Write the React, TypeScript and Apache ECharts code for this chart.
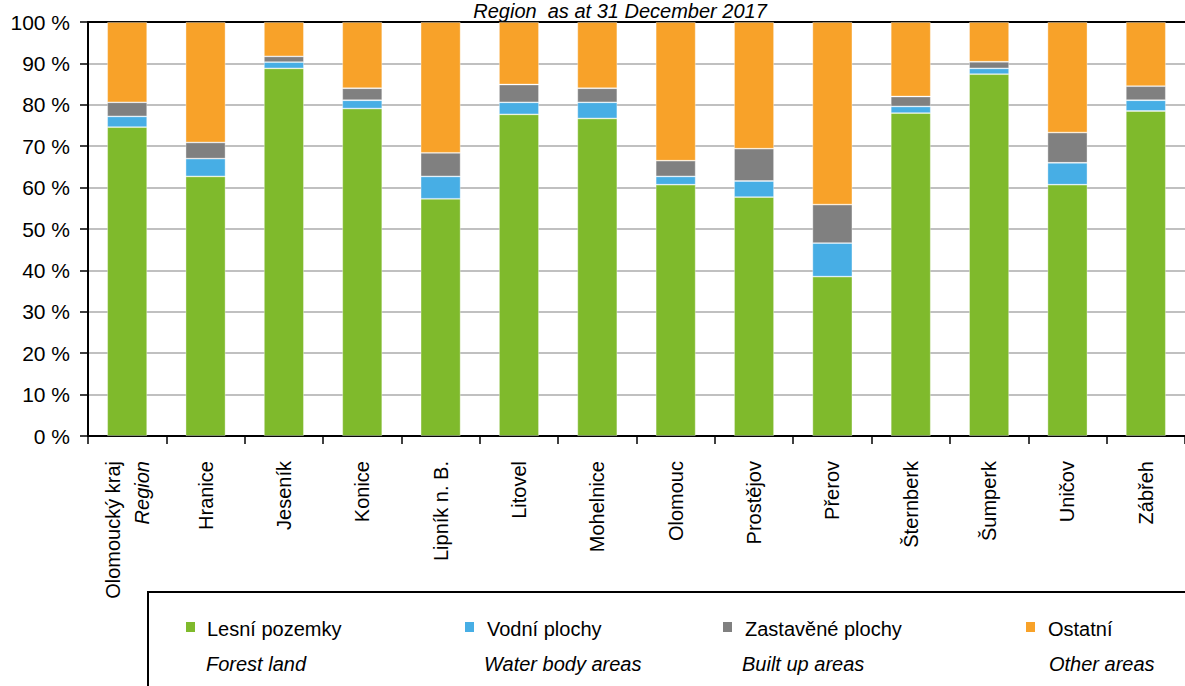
import React, { useEffect, useRef } from "react";
import * as echarts from "echarts";

const FONT = "'Liberation Sans', Arial, sans-serif";

const categories = [
  "Olomoucký kraj",
  "Hranice",
  "Jeseník",
  "Konice",
  "Lipník n. B.",
  "Litovel",
  "Mohelnice",
  "Olomouc",
  "Prostějov",
  "Přerov",
  "Šternberk",
  "Šumperk",
  "Uničov",
  "Zábřeh",
];
const regionSubLabel = "Region";

const forest = [74.6, 62.7, 88.8, 79.1, 57.3, 77.7, 76.7, 60.7, 57.7, 38.5, 78.0, 87.4, 60.7, 78.5];
const water = [2.6, 4.3, 1.5, 2.0, 5.4, 2.9, 3.9, 2.0, 3.9, 8.1, 1.6, 1.4, 5.3, 2.6];
const built = [3.4, 3.9, 1.4, 2.9, 5.7, 4.3, 3.4, 3.8, 7.8, 9.3, 2.4, 1.6, 7.3, 3.4];
const other = [19.4, 29.1, 8.3, 16.0, 31.6, 15.1, 16.0, 33.5, 30.6, 44.1, 18.0, 9.6, 26.7, 15.5];

const seriesNamesCz = ["Lesní pozemky", "Vodní plochy", "Zastavěné plochy", "Ostatní"];
const seriesNamesEn = ["Forest land", "Water body areas", "Built up areas", "Other areas"];
const seriesColors = ["#7fba2c", "#47aee5", "#808080", "#f8a229"];
const seriesData = [forest, water, built, other];

const titleText = "Region  as at 31 December 2017";

export default function App() {
  const ref = useRef<HTMLDivElement>(null);

  useEffect(() => {
    if (!ref.current) return;
    const chart = echarts.init(ref.current, undefined, { renderer: "svg" });

    const legendX = [186, 465, 723, 1026];
    const legendTextX = [207, 487, 745, 1048];
    const legendEnX = [206, 484, 742, 1049];

    const graphic: any[] = [
      {
        type: "rect",
        shape: { x: 148, y: 592, width: 1100, height: 200 },
        style: { fill: "none", stroke: "#000", lineWidth: 2 },
        silent: true,
      },
    ];
    seriesNamesCz.forEach((name, i) => {
      graphic.push({
        type: "rect",
        shape: { x: legendX[i], y: 622, width: 9, height: 10 },
        style: { fill: seriesColors[i] },
      });
      graphic.push({
        type: "text",
        x: legendTextX[i],
        y: 629,
        style: {
          text: name,
          fontFamily: FONT,
          fontSize: 20,
          fill: "#000",
          verticalAlign: "middle",
          align: "left",
        },
      });
      graphic.push({
        type: "text",
        x: legendEnX[i],
        y: 664,
        style: {
          text: seriesNamesEn[i],
          fontFamily: FONT,
          fontSize: 20,
          fontStyle: "italic",
          fill: "#000",
          verticalAlign: "middle",
          align: "left",
        },
      });
    });
    graphic.push({
      type: "text",
      x: 620,
      y: 11,
      style: {
        text: titleText,
        fontFamily: FONT,
        fontSize: 20,
        fontStyle: "italic",
        fill: "#000",
        verticalAlign: "middle",
        align: "center",
      },
    });

    const option: any = {
      animation: false,
      backgroundColor: "#fff",
      grid: { left: 88, top: 22, bottom: 250, right: -12, containLabel: false },
      xAxis: [
        {
          type: "category",
          data: categories,
          axisLine: { lineStyle: { color: "#000", width: 2 } },
          axisTick: { show: true, length: 8, lineStyle: { color: "#000", width: 1.5 } },
          axisLabel: {
            rotate: 90,
            margin: 25,
            interval: 0,
            fontFamily: FONT,
            fontSize: 20,
            color: "#000",
            formatter: (v: string, idx: number) =>
              idx === 0 ? `{a|${v}}\n{b|${regionSubLabel}}` : v,
            rich: {
              a: { fontFamily: FONT, fontSize: 20, color: "#000", lineHeight: 29 },
              b: { fontFamily: FONT, fontSize: 20, color: "#000", fontStyle: "italic", lineHeight: 29 },
            },
          },
        },
        {
          type: "category",
          position: "top",
          data: categories,
          axisLine: { show: true, lineStyle: { color: "#000", width: 2 } },
          axisTick: { show: false },
          axisLabel: { show: false },
        },
      ],
      yAxis: {
        type: "value",
        min: 0,
        max: 100,
        interval: 10,
        axisLine: { show: true, lineStyle: { color: "#000", width: 2 } },
        axisTick: { show: true, length: 8, lineStyle: { color: "#000", width: 1.5 } },
        axisLabel: {
          margin: 18,
          fontFamily: FONT,
          fontSize: 21,
          color: "#000",
          formatter: (v: number) => `${v} %`,
        },
        splitLine: { show: true, lineStyle: { color: "#c0c0c0", width: 2 } },
      },
      series: seriesData.map((d, i) => ({
        name: seriesNamesCz[i],
        type: "bar",
        stack: "total",
        barWidth: "51%",
        data: d,
        itemStyle: {
          color: seriesColors[i],
          borderColor: "rgba(255,255,255,0.45)",
          borderWidth: 0.8,
        },
      })),
      graphic,
    };

    chart.setOption(option);
    return () => chart.dispose();
  }, []);

  return (
    <div
      ref={ref}
      style={{ position: "absolute", left: 0, top: 0, width: 1185, height: 686 }}
    />
  );
}
